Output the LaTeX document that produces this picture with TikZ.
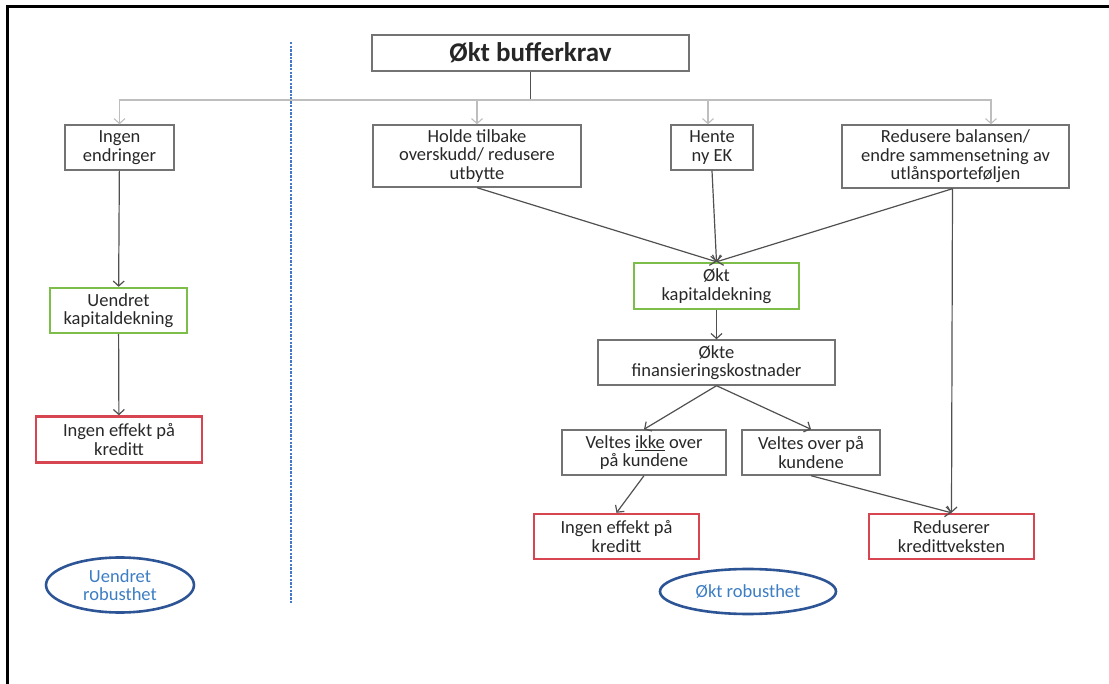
\documentclass[tikz,border=0pt]{standalone}
\usepackage{fontspec}
\setmainfont{Carlito}
\usepackage{xcolor}
\usetikzlibrary{arrows.meta,shapes.geometric,positioning}
\definecolor{boxgray}{RGB}{115,115,115}
\definecolor{txtgray}{RGB}{40,40,40}
\definecolor{arrgray}{RGB}{80,80,80}
\definecolor{busgray}{RGB}{190,190,190}
\definecolor{kapgreen}{RGB}{125,190,75}
\definecolor{kredred}{RGB}{215,70,80}
\definecolor{ovalblue}{RGB}{45,85,150}
\definecolor{robblue}{RGB}{60,125,195}
\definecolor{dashblue}{RGB}{70,120,200}
\begin{document}
\begin{tikzpicture}[x=1pt,y=-1pt,
       box/.style={draw=boxgray,line width=1.4pt,text=txtgray,align=center,inner sep=0pt,font=\fontsize{18.5}{18.5}\selectfont},
       greenbox/.style={box,draw=kapgreen,line width=2.4pt},
       redbox/.style={box,draw=kredred,line width=2.4pt},
       oval/.style={ellipse,draw=ovalblue,line width=2.6pt,text=robblue,align=center,inner sep=0pt,font=\fontsize{18.5}{18.5}\selectfont},
       arr/.style={draw=arrgray,line width=1.2pt,-{Straight Barb[length=5pt,width=11pt]}},
       busarr/.style={draw=busgray,line width=1.1pt,-{Straight Barb[length=5pt,width=11pt]}}]
       \useasboundingbox (0,0) rectangle (1109,684);
       % frame and divider
       \draw[line width=3pt] (7,684) -- (7,7) -- (1109,7);
       \draw[dashblue,line width=1.8pt,dash pattern=on 2.5pt off 1.2pt] (291,42) -- (291,603);
       % top
       \node[box,minimum width=317pt,minimum height=36pt,text=black!85,font=\fontsize{27}{30}\selectfont\bfseries] (buffer) at (530.5,53) {Økt bufferkrav};
       \coordinate (bus) at (530.5,100);
       % left side
       \node[box,minimum width=109pt,minimum height=45pt] (ingen) at (119.5,147.5) {Ingen\\endringer};
       \node[greenbox,minimum width=137pt,minimum height=45pt] (uendret) at (118.5,310.5) {Uendret\\kapitaldekning};
       \node[redbox,minimum width=166pt,minimum height=46pt] (effektL) at (119,439.5) {Ingen effekt på\\kreditt};
       \node[oval,minimum width=148pt,minimum height=55pt] (robustL) at (120,585) {Uendret\\robusthet};
       % right side
       \node[box,minimum width=208pt,minimum height=62pt] (holde) at (477,156) {Holde tilbake\\overskudd/ redusere\\utbytte};
       \node[box,minimum width=82pt,minimum height=45pt] (hente) at (712,147.5) {Hente\\ny EK};
       \node[box,minimum width=227pt,minimum height=63pt] (redusere) at (955.5,156.5) {Redusere balansen/\\endre sammensetning av\\utlånsporteføljen};
       \node[greenbox,minimum width=165pt,minimum height=46pt] (oktkap) at (716.5,286) {Økt\\kapitaldekning};
       \node[box,minimum width=237pt,minimum height=45pt] (finans) at (716.5,362.5) {Økte\\finansieringskostnader};
       \node[box,minimum width=164pt,minimum height=45pt] (ikke) at (644,452.5) {Veltes \underline{ikke} over\\på kundene};
       \node[box,minimum width=138pt,minimum height=45pt] (over) at (811,452.5) {Veltes over på\\kundene};
       \node[redbox,minimum width=165pt,minimum height=45pt] (effektR) at (616.5,536.5) {Ingen effekt på\\kreditt};
       \node[redbox,minimum width=165pt,minimum height=45pt] (reduserer) at (951.5,536.5) {Reduserer\\kredittveksten};
       \node[oval,minimum width=176pt,minimum height=45pt] (robustR) at (748,591.5) {Økt robusthet};
       % bus from the top box
       \draw[arrgray,line width=1.2pt] (buffer.south) -- (bus);
       \draw[busarr] (bus) -| (ingen.north);
       \draw[busarr] (bus) -| (holde.north);
       \draw[busarr] (bus) -| ([xshift=-4pt]hente.north);
       \draw[busarr] (bus) -| ([xshift=35.5pt]redusere.north);
       % arrows
       \draw[arr] (ingen) -- (uendret);
       \draw[arr] (uendret) -- (effektL);
       \draw[arr] (holde.south) -- (oktkap.north);
       \draw[arr] (hente.south) -- (oktkap.north);
       \draw[arr] ([xshift=-3pt]redusere.south) -- (oktkap.north);
       \draw[arr] (oktkap) -- (finans);
       \draw[arr] (finans.south) -- (ikke.north);
       \draw[arr] (finans.south) -- (over.north);
       \draw[arr] (ikke.south) -- (effektR.north);
       \draw[arr] (over.south) -- (reduserer.north);
       \draw[arr] ([xshift=-3pt]redusere.south) -- (reduserer.north);
\end{tikzpicture}
\end{document}
